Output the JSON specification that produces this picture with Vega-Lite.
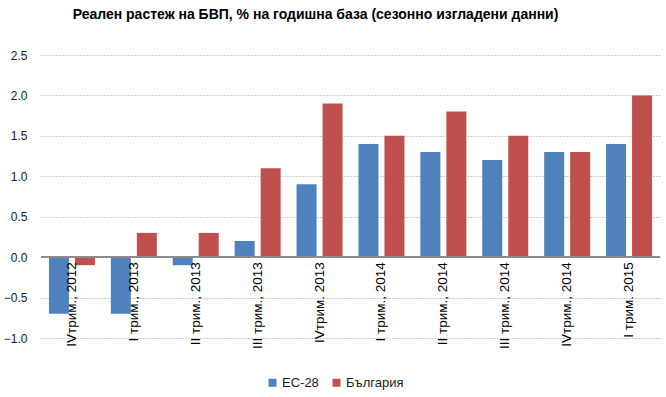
{
  "$schema": "https://vega.github.io/schema/vega-lite/v6.json",
  "width": 619,
  "height": 283,
  "autosize": {"type": "none"},
  "padding": {"left": 41, "top": 55, "right": 6, "bottom": 59},
  "background": "white",
  "config": {
    "view": {"stroke": null},
    "font": "Liberation Sans"
  },
  "title": {
    "text": "Реален растеж на БВП, % на годишна база (сезонно изгладени данни)",
    "font": "Liberation Sans",
    "fontSize": 14,
    "fontWeight": "bold",
    "color": "#000000",
    "anchor": "middle",
    "dx": -35,
    "offset": 27
  },
  "data": {
    "values": [
      {"q": "IVтрим., 2012", "series": "ЕС-28", "value": -0.7},
      {"q": "IVтрим., 2012", "series": "България", "value": -0.1},
      {"q": "I трим., 2013", "series": "ЕС-28", "value": -0.7},
      {"q": "I трим., 2013", "series": "България", "value": 0.3},
      {"q": "II трим., 2013", "series": "ЕС-28", "value": -0.1},
      {"q": "II трим., 2013", "series": "България", "value": 0.3},
      {"q": "III трим., 2013", "series": "ЕС-28", "value": 0.2},
      {"q": "III трим., 2013", "series": "България", "value": 1.1},
      {"q": "IVтрим. 2013", "series": "ЕС-28", "value": 0.9},
      {"q": "IVтрим. 2013", "series": "България", "value": 1.9},
      {"q": "I трим., 2014", "series": "ЕС-28", "value": 1.4},
      {"q": "I трим., 2014", "series": "България", "value": 1.5},
      {"q": "II трим., 2014", "series": "ЕС-28", "value": 1.3},
      {"q": "II трим., 2014", "series": "България", "value": 1.8},
      {"q": "III трим., 2014", "series": "ЕС-28", "value": 1.2},
      {"q": "III трим., 2014", "series": "България", "value": 1.5},
      {"q": "IVтрим., 2014", "series": "ЕС-28", "value": 1.3},
      {"q": "IVтрим., 2014", "series": "България", "value": 1.3},
      {"q": "I трим. 2015", "series": "ЕС-28", "value": 1.4},
      {"q": "I трим. 2015", "series": "България", "value": 2.0}
    ]
  },
  "encoding": {
    "x": {
      "field": "q",
      "type": "nominal",
      "sort": null,
      "scale": {"paddingInner": 0.257, "paddingOuter": 0.128},
      "axis": null
    }
  },
  "layer": [
    {
      "mark": {"type": "bar"},
      "encoding": {
        "xOffset": {
          "field": "series",
          "type": "nominal",
          "sort": ["ЕС-28", "България"],
          "scale": {"paddingInner": 0.23, "paddingOuter": 0}
        },
        "y": {
          "field": "value",
          "type": "quantitative",
          "scale": {"domain": [-1.0, 2.5], "nice": false, "zero": false},
          "axis": {
            "title": null,
            "values": [-1.0, -0.5, 0.0, 0.5, 1.0, 1.5, 2.0, 2.5],
            "format": ".1f",
            "domain": false,
            "ticks": false,
            "labelPadding": 14,
            "labelFontSize": 12,
            "labelColor": "#1a1a1a",
            "labelFont": "Liberation Sans",
            "grid": true,
            "gridColor": "#9a9a9a",
            "gridDash": [1, 2],
            "gridWidth": 1
          }
        },
        "color": {
          "field": "series",
          "type": "nominal",
          "scale": {"domain": ["ЕС-28", "България"], "range": ["#4F81BD", "#C0504D"]},
          "legend": {
            "title": null,
            "orient": "none",
            "legendX": 225,
            "legendY": 321,
            "direction": "horizontal",
            "symbolType": "square",
            "symbolSize": 64,
            "symbolStrokeWidth": 0,
            "labelFontSize": 13,
            "labelFont": "Liberation Sans",
            "labelColor": "#1a1a1a",
            "labelOffset": 3,
            "columnPadding": 11
          }
        }
      }
    },
    {
      "mark": {"type": "rule", "color": "#8c8c8c", "strokeWidth": 1.5},
      "encoding": {"y": {"datum": 0}, "x": {"value": 0}, "x2": {"value": 619}}
    },
    {
      "mark": {
        "type": "text",
        "angle": 270,
        "align": "right",
        "baseline": "middle",
        "dx": -5,
        "fontSize": 13.5,
        "font": "Liberation Sans",
        "color": "#000000"
      },
      "transform": [{"filter": "datum.series === 'ЕС-28'"}],
      "encoding": {
        "y": {"datum": 0},
        "text": {"field": "q"}
      }
    }
  ]
}
